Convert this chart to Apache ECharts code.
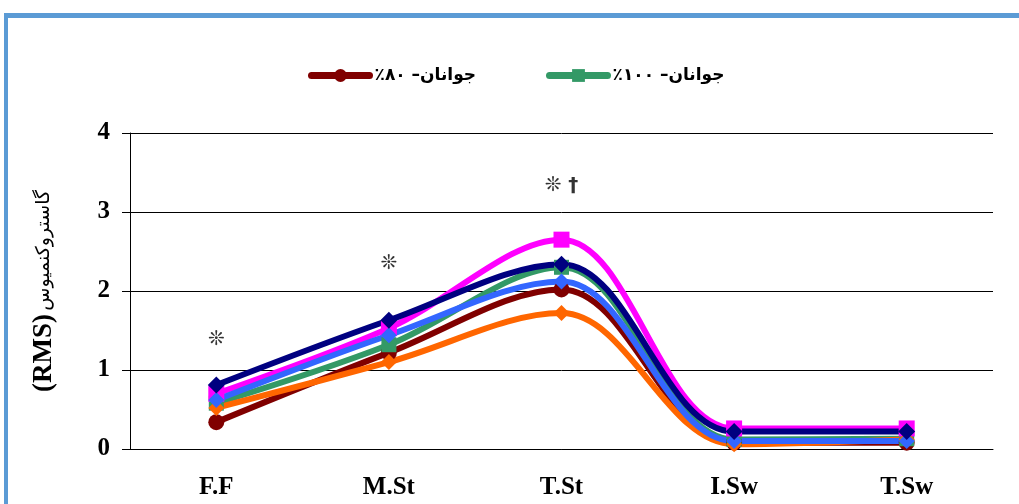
<!DOCTYPE html>
<html>
<head>
<meta charset="utf-8">
<script src="https://cdn.jsdelivr.net/npm/echarts@6/dist/echarts.min.js"></script>
<style>
	html, body { margin: 0; padding: 0; background: #fff; overflow: hidden; }
	#wrap { position: relative; width: 1019px; height: 504px; overflow: hidden; }
	#frame { position: absolute; left: 4px; top: 13px; width: 1100px; height: 600px;
		border-top: 5px solid #5B9BD5; border-left: 4px solid #5B9BD5; }
	#chart { position: absolute; left: 0; top: 0; width: 1019px; height: 504px; }
</style>
</head>
<body>
<div id="wrap">
	<div id="frame"></div>
	<div id="chart"></div>
</div>
<script>
// categories (gait phases)
var categories = ['F.F', 'M.St', 'T.St', 'I.Sw', 'T.Sw'];

// y axis
var yMin = 0, yMax = 4, yStep = 1;

// series values
var young80  = [0.34, 1.22, 2.02, 0.08, 0.08];
var young100 = [0.58, 1.32, 2.30, 0.12, 0.13];
var s3Values = [0.70, 1.53, 2.65, 0.26, 0.26];
var s4Values = [0.52, 1.10, 1.72, 0.06, 0.12];
var s5Values = [0.62, 1.44, 2.12, 0.10, 0.10];
var s6Values = [0.81, 1.63, 2.34, 0.22, 0.22];

// significance marks above phases
var markCats = ['F.F', 'M.St', 'T.St'];
var markVals = [1.38, 2.34, 3.33];
var markText = ['\u274A', '\u274A', '\u274A \u2020'];

var name80 = 'جوانان- ۸۰٪';
var name100 = 'جوانان- ۱۰۰٪';

(function() {
	var chart = echarts.init(document.getElementById('chart'));

	function lineSeries(name, data, color, symbol, size) {
		return {
			name: name,
			type: 'line',
			data: data,
			smooth: 0.35,
			symbol: symbol,
			symbolSize: size,
			showAllSymbol: true,
			lineStyle: { color: color, width: 6 },
			itemStyle: { color: color },
			z: 2
		};
	}

	var marks = [];
	for (var i = 0; i < markCats.length; i++) {
		marks.push({ value: [markCats[i], markVals[i]], label: { formatter: markText[i] } });
	}

	var legendText = {
		fontFamily: 'DejaVu Sans',
		fontSize: 17,
		fontWeight: 'bold',
		color: '#000',
		rich: {
			a: { fontFamily: 'DejaVu Sans', fontSize: 17, fontWeight: 'bold', color: '#000' }
		}
	};

	var option = {
		animation: false,
		backgroundColor: 'transparent',
		legend: [
			{
				data: [name80], left: 303, top: 62, itemWidth: 58, itemHeight: 16,
				lineStyle: { width: 7, cap: 'round' },
				textStyle: legendText,
				formatter: function() { return '{a|٪۸۰ –}{a|جوانان}'; }
			},
			{
				data: [name100], left: 541, top: 62, itemWidth: 58, itemHeight: 16,
				lineStyle: { width: 7, cap: 'round' },
				textStyle: legendText,
				formatter: function() { return '{a|٪۱۰۰ –}{a|جوانان}'; }
			}
		],
		grid: { left: 130, right: 26, top: 133, bottom: 55 },
		xAxis: {
			type: 'category',
			data: categories,
			axisLine: { lineStyle: { color: '#000', width: 1 } },
			axisTick: { length: 9, lineStyle: { color: '#000' } },
			axisLabel: {
				fontFamily: 'Liberation Serif', fontWeight: 'bold', fontSize: 25,
				color: '#000', margin: 26
			}
		},
		yAxis: {
			type: 'value',
			min: yMin, max: yMax, interval: yStep,
			name: '{b|(RMS)} {a|گاستروکنمیوس}',
			nameLocation: 'middle',
			nameGap: 72,
			nameRotate: 90,
			nameTextStyle: {
				rich: {
					a: { fontFamily: 'DejaVu Sans', fontSize: 19, color: '#000' },
					b: { fontFamily: 'Liberation Serif', fontSize: 27, fontWeight: 'bold', color: '#000' }
				}
			},
			axisLine: { show: true, lineStyle: { color: '#000', width: 1 } },
			axisTick: { show: true, length: 8, lineStyle: { color: '#000' } },
			axisLabel: {
				fontFamily: 'Liberation Serif', fontWeight: 'bold', fontSize: 25,
				color: '#000', margin: 20
			},
			splitLine: { lineStyle: { color: '#000', width: 1 } }
		},
		series: [
			lineSeries(name80, young80, '#800000', 'circle', 16),
			lineSeries(name100, young100, '#339966', 'rect', 15),
			lineSeries('s3', s3Values, '#FF00FF', 'rect', 16),
			lineSeries('s4', s4Values, '#FF6600', 'diamond', 16),
			lineSeries('s5', s5Values, '#3366FF', 'diamond', 16),
			lineSeries('s6', s6Values, '#000080', 'diamond', 17),
			{
				name: 'marks',
				type: 'scatter',
				data: marks,
				symbolSize: 1,
				itemStyle: { color: 'transparent' },
				label: {
					show: true, position: 'inside',
					fontFamily: 'DejaVu Sans', fontSize: 20, fontWeight: 'bold', color: '#000'
				},
				z: 5
			}
		]
	};

	chart.setOption(option);
})();
</script>
</body>
</html>
